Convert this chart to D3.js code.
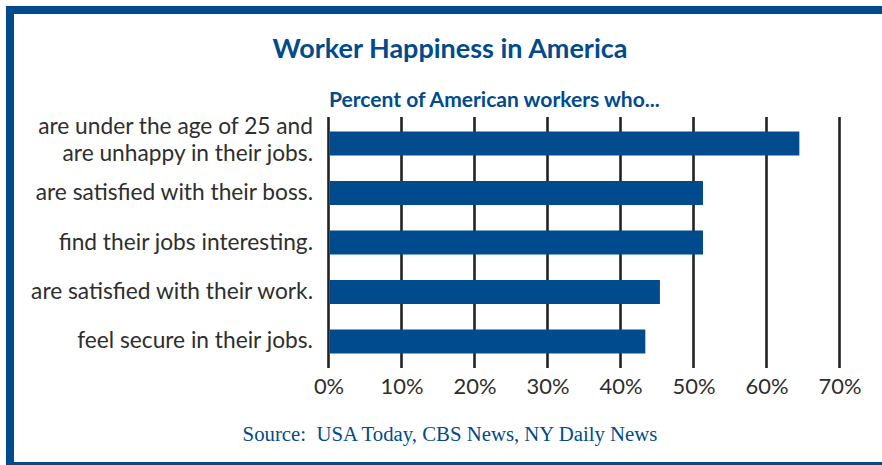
<!DOCTYPE html>
<html>
<head>
<meta charset="utf-8">
<script src="https://cdn.jsdelivr.net/npm/d3@7"></script>
<style>
  html, body { margin: 0; padding: 0; background: #fff; }
  svg { display: block; }
</style>
</head>
<body>
<svg id="chart" width="882" height="465"></svg>
<script>
// ---- data ----
const categories = [
  ["are under the age of 25 and", "are unhappy in their jobs."],
  ["are satisfied with their boss."],
  ["find their jobs interesting."],
  ["are satisfied with their work."],
  ["feel secure in their jobs."]
];
const values = [64.5, 51.3, 51.3, 45.4, 43.4];
const tickValues = [0, 10, 20, 30, 40, 50, 60, 70];
const tickLabels = ["0%", "10%", "20%", "30%", "40%", "50%", "60%", "70%"];
const title = "Worker Happiness in America";
const subtitle = "Percent of American workers who...";
const source = "Source:  USA Today, CBS News, NY Daily News";

// ---- style ----
const BLUE = "#004b8d";
const TEXT = "#2e2e2e";
const svg = d3.select("#chart");

function fitText(sel, target) {
  const w = sel.node().getComputedTextLength();
  const fs = parseFloat(sel.attr("font-size"));
  sel.attr("font-size", (fs * target / w).toFixed(2));
  return fs * target / w;
}

// frame
svg.append("rect").attr("x", 10).attr("y", 10).attr("width", 890).attr("height", 456)
  .attr("fill", "#fff").attr("stroke", BLUE).attr("stroke-width", 8);

// scales
const x = d3.scaleLinear().domain([0, 70]).range([328.5, 839.5]);
const y = d3.scaleBand().domain(d3.range(categories.length)).range([117, 368])
  .paddingInner(0.515).paddingOuter(0.293);

// title
const t = svg.append("text").attr("x", 450).attr("y", 58).attr("text-anchor", "middle")
  .attr("font-family", "Lato").attr("font-weight", "bold").attr("font-size", 25)
  .attr("fill", BLUE).text(title);
fitText(t, 355);

const st = svg.append("text").attr("x", 329).attr("y", 107)
  .attr("font-family", "Lato").attr("font-weight", "bold").attr("font-size", 20)
  .attr("fill", BLUE).text(subtitle);
fitText(st, 331);

// gridlines
svg.append("g").selectAll("line").data(tickValues).join("line")
  .attr("x1", d => x(d)).attr("x2", d => x(d))
  .attr("y1", 117).attr("y2", 368)
  .attr("stroke", "#222").attr("stroke-width", 2.6);

// bars
svg.append("g").selectAll("rect").data(values).join("rect")
  .attr("x", x(0) + 1.5)
  .attr("y", (d, i) => y(i))
  .attr("width", d => x(d) - x(0) - 1.5)
  .attr("height", y.bandwidth())
  .attr("fill", BLUE);

// x-axis tick labels
const ax = svg.append("g").attr("transform", "translate(0,394)")
  .call(d3.axisBottom(x).tickValues(tickValues).tickFormat((d, i) => tickLabels[i]).tickSize(0).tickPadding(0));
ax.select(".domain").remove();
ax.selectAll("text").attr("font-family", "Lato").attr("font-size", 22).attr("fill", TEXT)
  .attr("dy", 0).attr("y", 0);
// fit tick font size
const probe = ax.selectAll("text").filter((d, i) => i === 7);
const tfs = fitText(probe, 43);
ax.selectAll("text").attr("font-size", tfs.toFixed(2));

// category labels
const lab = svg.append("g");
const labels = lab.selectAll("text").data(categories).join("text")
  .attr("text-anchor", "end")
  .attr("font-family", "Lato").attr("font-size", 20).attr("fill", TEXT);
labels.each(function(lines, i) {
  const c = y(i) + y.bandwidth() / 2;
  const sel = d3.select(this);
  if (lines.length === 1) {
    sel.append("tspan").attr("x", 313).attr("y", c + 7).text(lines[0]);
  } else {
    sel.append("tspan").attr("x", 313).attr("y", c - 9.5).text(lines[0]);
    sel.append("tspan").attr("x", 313).attr("y", c + 17).text(lines[1]);
  }
});
// fit label size using the widest single line
const ref = labels.filter((d, i) => i === 3);
const lfs = fitText(ref, 282);
labels.attr("font-size", lfs.toFixed(2));

// source
const src = svg.append("text").attr("x", 450).attr("y", 441).attr("text-anchor", "middle")
  .attr("font-family", "Liberation Serif").attr("font-size", 19)
  .attr("fill", BLUE).attr("xml:space", "preserve").style("white-space", "pre").text(source);
fitText(src, 415);
</script>
</body>
</html>
